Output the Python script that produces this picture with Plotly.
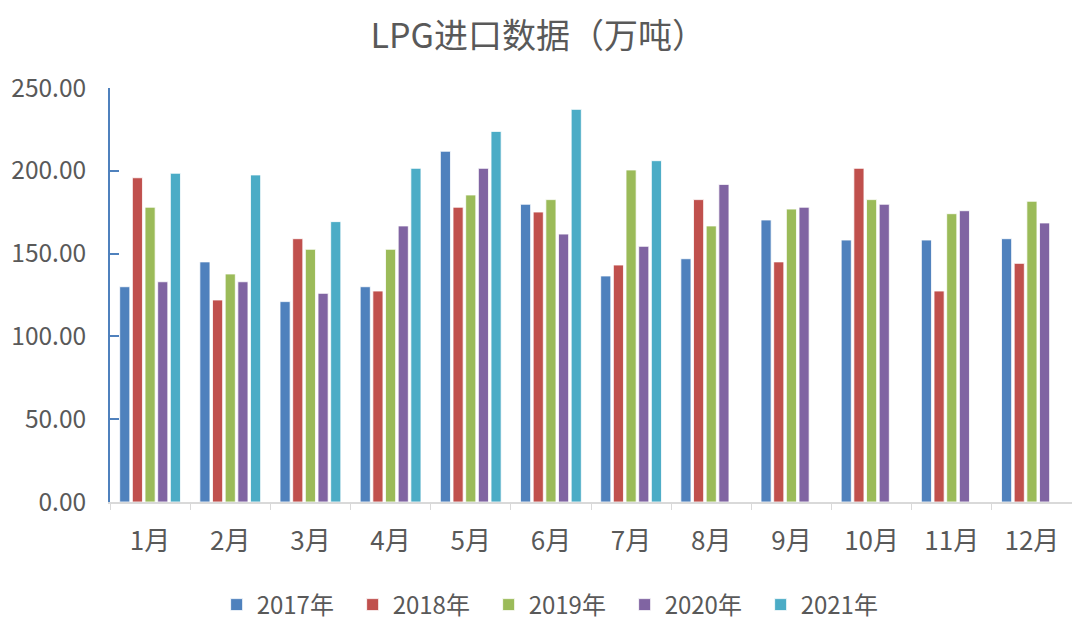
import plotly.graph_objects as go

months = ["1月", "2月", "3月", "4月", "5月", "6月", "7月", "8月", "9月", "10月", "11月", "12月"]
series_names = ["2017年", "2018年", "2019年", "2020年", "2021年"]
y2017 = [130.0, 145.0, 121.0, 130.0, 211.8, 179.8, 136.5, 146.9, 170.3, 158.2, 158.2, 159.0]
y2018 = [195.8, 122.0, 159.0, 127.4, 178.0, 175.1, 143.1, 182.6, 145.0, 201.5, 127.4, 144.1]
y2019 = [178.0, 137.7, 152.6, 152.6, 185.4, 182.6, 200.5, 166.7, 176.9, 182.6, 174.1, 181.6]
y2020 = [133.0, 133.0, 126.0, 166.7, 201.5, 161.8, 154.4, 191.8, 178.0, 179.8, 175.9, 168.5]
y2021 = [198.5, 197.5, 169.3, 201.5, 223.8, 237.1, 206.1, None, None, None, None, None]
colors = ["#4F81BD", "#C0504D", "#9BBB59", "#8064A2", "#4BACC6"]

font = "Noto Sans CJK SC"
fig = go.Figure()
for name, vals, c in zip(series_names, [y2017, y2018, y2019, y2020, y2021], colors):
    fig.add_trace(go.Bar(x=months, y=vals, name=name, marker=dict(color=c, line=dict(color="rgba(255,255,255,0.8)", width=1))))

fig.update_layout(
    width=1080, height=623,
    paper_bgcolor="white", plot_bgcolor="white",
    margin=dict(l=102, r=16, t=80, b=129),
    barmode="group", bargap=0.21, bargroupgap=0.2,
    title=dict(text="LPG进口数据（万吨）", x=0.491, xanchor="center", xref="container",
               y=0.955, yanchor="middle", yref="container",
               font=dict(family=font, size=34, color="#595959")),
    font=dict(family=font, color="#595959"),
    legend=dict(orientation="h", x=0.508, xanchor="center", xref="container",
                y=0.0417, yanchor="middle", yref="container",
                font=dict(size=24, color="#595959"), entrywidth=91, itemwidth=30),
    xaxis=dict(showline=True, linecolor="#D9D9D9", linewidth=1.5, ticks="outside", tickson="boundaries",
               ticklen=6, tickcolor="#D9D9D9", tickfont=dict(size=26, color="#595959"), showgrid=False,
               automargin=False, ticklabelstandoff=15),
    yaxis=dict(range=[0, 250], dtick=50, tickformat=".2f", showline=True, linecolor="#4F81BD", linewidth=2,
               ticks="inside", ticklen=9, tickcolor="#4F81BD", tickwidth=2, showgrid=False, zeroline=False,
               tickfont=dict(size=24.5, color="#595959"), ticklabelstandoff=17, automargin=False),
)
fig.write_html("out.html")
